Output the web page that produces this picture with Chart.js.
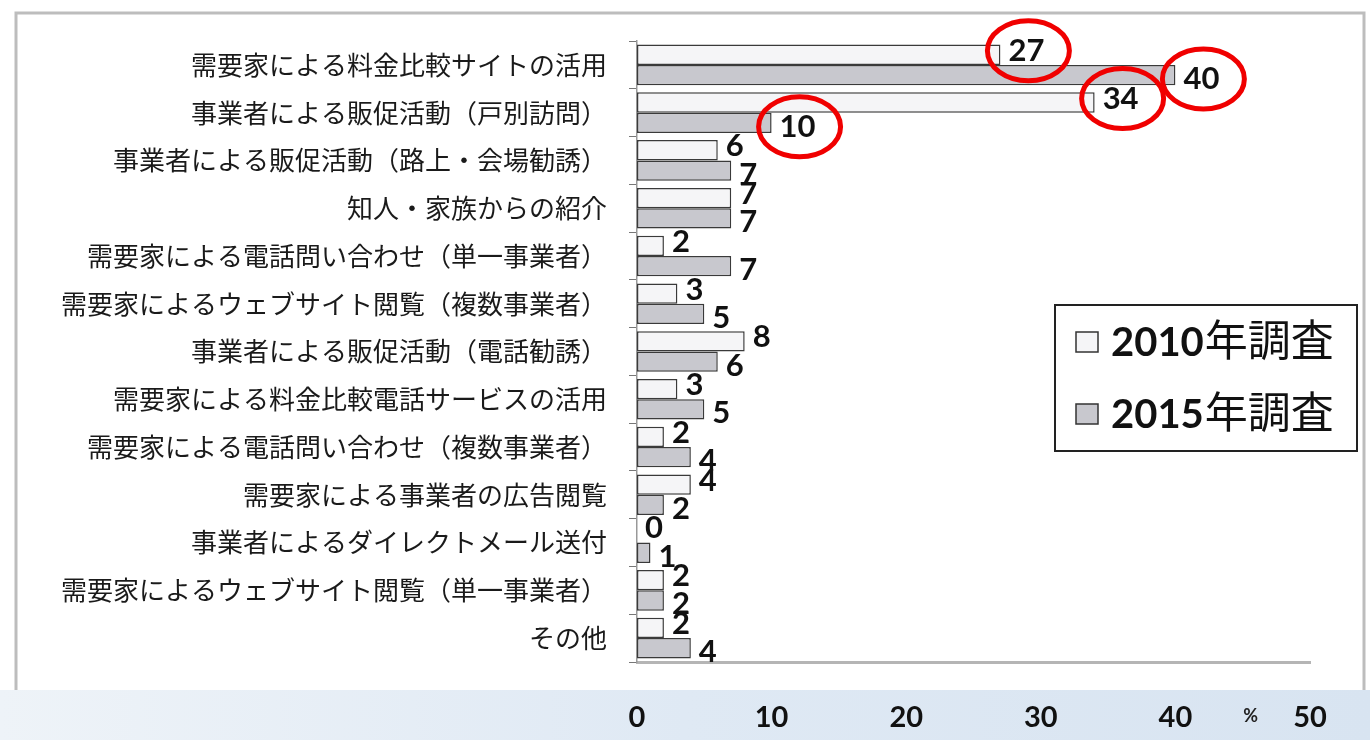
<!DOCTYPE html>
<html>
<head>
<meta charset="utf-8">
<script src="https://cdn.jsdelivr.net/npm/chart.js@4.4.1/dist/chart.umd.min.js"></script>
<style>
  html, body { margin: 0; padding: 0; background: #fff; }
  #wrap { width: 1370px; height: 740px; position: relative; }
</style>
</head>
<body>
<div id="wrap"><canvas id="chart" width="1370" height="740"></canvas></div>
<script>
// data
const categories = [
    '需要家による料金比較サイトの活用',
    '事業者による販促活動（戸別訪問）',
    '事業者による販促活動（路上・会場勧誘）',
    '知人・家族からの紹介',
    '需要家による電話問い合わせ（単一事業者）',
    '需要家によるウェブサイト閲覧（複数事業者）',
    '事業者による販促活動（電話勧誘）',
    '需要家による料金比較電話サービスの活用',
    '需要家による電話問い合わせ（複数事業者）',
    '需要家による事業者の広告閲覧',
    '事業者によるダイレクトメール送付',
    '需要家によるウェブサイト閲覧（単一事業者）',
    'その他'
];
const survey2010 = [27, 34, 6, 7, 2, 3, 8, 3, 2, 4, 0, 2, 2];
const survey2015 = [40, 10, 7, 7, 7, 5, 6, 5, 4, 2, 1, 2, 4];
const seriesNames = ['2010年調査', '2015年調査'];
const xTicks = [0, 10, 20, 30, 40, 50];
const unitLabel = '%';
// values that are circled in red: [dataset, index]
const circled = [[0, 0], [1, 0], [0, 1], [1, 1]];

const numFont = '"Lato", "Liberation Sans", sans-serif';
const jpFont = '"Noto Sans CJK JP", sans-serif';

// frame + bottom band
const backdrop = {
    id: 'backdrop',
    beforeDraw(chart) {
        const ctx = chart.ctx;
        ctx.save();
        ctx.fillStyle = '#fff';
        ctx.fillRect(0, 0, chart.width, chart.height);
        const g = ctx.createLinearGradient(0, 0, chart.width, 0);
        g.addColorStop(0, '#eef3f8');
        g.addColorStop(0.5, '#dfe9f4');
        g.addColorStop(1, '#d8e4f1');
        ctx.fillStyle = g;
        ctx.fillRect(0, 690, chart.width, 50);
        ctx.strokeStyle = '#bdbdbd';
        ctx.lineWidth = 3;
        ctx.beginPath();
        ctx.moveTo(16, 690);
        ctx.lineTo(16, 13);
        ctx.lineTo(1364, 13);
        ctx.lineTo(1364, 690);
        ctx.stroke();
        ctx.restore();
    }
};

// value labels, red circles, legend, unit
const overlay = {
    id: 'overlay',
    afterDatasetsDraw(chart) {
        const ctx = chart.ctx;
        ctx.save();
        ctx.font = 'bold 31px ' + numFont;
        ctx.fillStyle = '#111';
        ctx.textBaseline = 'middle';
        ctx.textAlign = 'left';
        const pos = {};
        chart.data.datasets.forEach((ds, di) => {
            chart.getDatasetMeta(di).data.forEach((bar, i) => {
                const x = bar.x + 8;
                const y = bar.y + (di === 0 ? -4 : 4);
                const txt = String(ds.data[i]);
                ctx.fillText(txt, x, y);
                pos[di + '-' + i] = { x: x + ctx.measureText(txt).width / 2, y: y };
            });
        });
        ctx.strokeStyle = '#f00000';
        ctx.lineWidth = 5;
        circled.forEach(([di, i]) => {
            const p = pos[di + '-' + i];
            ctx.beginPath();
            ctx.ellipse(p.x + 2, p.y, 41, 30, 0, 0, Math.PI * 2);
            ctx.stroke();
        });

        // legend box
        const lx = 1055, ly = 305, lw = 302, lh = 146;
        ctx.fillStyle = '#fff';
        ctx.fillRect(lx, ly, lw, lh);
        ctx.strokeStyle = '#222';
        ctx.lineWidth = 2;
        ctx.strokeRect(lx, ly, lw, lh);
        chart.data.datasets.forEach((ds, di) => {
            const cy = ly + 37 + di * 72;
            ctx.fillStyle = ds.backgroundColor;
            ctx.strokeStyle = '#333';
            ctx.lineWidth = 1.5;
            ctx.fillRect(lx + 21, cy - 10, 22, 20);
            ctx.strokeRect(lx + 21, cy - 10, 22, 20);
            const year = ds.label.slice(0, 4);
            const rest = ds.label.slice(4);
            ctx.fillStyle = '#111';
            ctx.font = 'bold 40px ' + numFont;
            ctx.fillText(year, lx + 56, cy + 1);
            const w = ctx.measureText(year).width;
            ctx.font = '43px ' + jpFont;
            ctx.fillText(rest, lx + 57 + w, cy - 2);
        });

        // unit mark between the last two ticks
        const xs = chart.scales.x;
        ctx.font = 'bold 18px ' + numFont;
        ctx.fillStyle = '#222';
        ctx.textAlign = 'center';
        ctx.fillText(unitLabel, (xs.getPixelForValue(xTicks[4]) + xs.getPixelForValue(xTicks[5])) / 2 + 8, 716);
        ctx.restore();
    }
};

new Chart(document.getElementById('chart'), {
    type: 'bar',
    data: {
        labels: categories,
        datasets: [{
            label: seriesNames[0],
            data: survey2010,
            backgroundColor: '#f5f5f7',
            borderColor: '#3a3a3a',
            borderWidth: 1.5,
            borderSkipped: false
        }, {
            label: seriesNames[1],
            data: survey2015,
            backgroundColor: '#c8c8ce',
            borderColor: '#3a3a3a',
            borderWidth: 1.5,
            borderSkipped: false
        }]
    },
    options: {
        indexAxis: 'y',
        responsive: false,
        animation: false,
        layout: { padding: { left: 15, right: 60, top: 41, bottom: 0 } },
        datasets: {
            bar: { categoryPercentage: 0.85, barPercentage: 1.0 }
        },
        plugins: {
            legend: { display: false },
            tooltip: { enabled: false }
        },
        scales: {
            x: {
                min: 0,
                max: 50,
                afterBuildTicks: (scale) => { scale.ticks = xTicks.map(v => ({ value: v })); },
                afterFit: (scale) => { scale.height = 78; },
                grid: { display: false, drawTicks: false },
                border: { display: true, color: '#b5b5b5', width: 3 },
                ticks: {
                    color: '#111',
                    padding: 38,
                    font: { family: numFont, size: 29, weight: 'bold' }
                }
            },
            y: {
                afterFit: (scale) => { scale.width = 622; },
                grid: { display: true, drawOnChartArea: false, offset: true, tickLength: 8, color: '#777' },
                border: { display: true, color: '#999', width: 1.5 },
                ticks: {
                    color: '#1a1a1a',
                    padding: 22,
                    font: { family: jpFont, size: 26 }
                }
            }
        }
    },
    plugins: [backdrop, overlay]
});
</script>
</body>
</html>
